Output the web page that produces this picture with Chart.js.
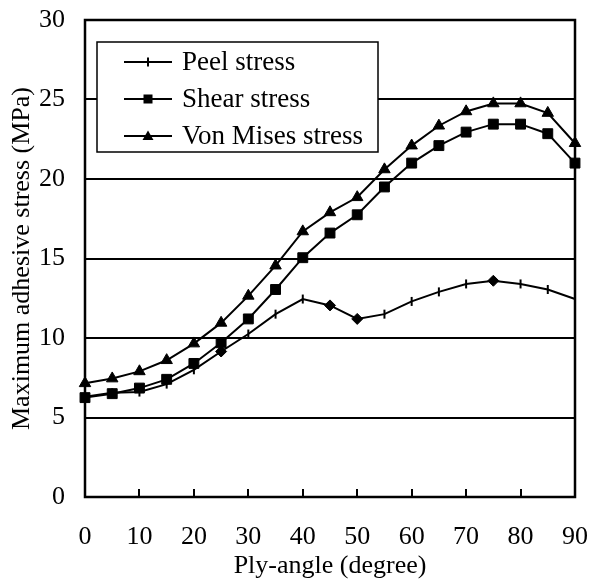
<!DOCTYPE html>
<html>
<head>
<meta charset="utf-8">
<script src="https://cdn.jsdelivr.net/npm/chart.js@4/dist/chart.umd.min.js"></script>
<style>
  html, body { margin: 0; padding: 0; background: #fff; }
  #wrap { width: 590px; height: 586px; }
</style>
</head>
<body>
<div id="wrap"><canvas id="stressChart" width="590" height="586"></canvas></div>
<script>
// ply angle in degrees
const angles = [0, 5, 10, 15, 20, 25, 30, 35, 40, 45, 50, 55, 60, 65, 70, 75, 80, 85, 90];

// maximum adhesive stress (MPa)
const peel      = [6.3, 6.55, 6.6, 7.1, 8.0, 9.15, 10.25, 11.5, 12.45, 12.05, 11.2, 11.5, 12.3, 12.9, 13.4, 13.6, 13.4, 13.05, 12.45];
const shear     = [6.25, 6.5, 6.85, 7.4, 8.4, 9.7, 11.2, 13.05, 15.05, 16.6, 17.75, 19.5, 21.0, 22.1, 22.95, 23.45, 23.45, 22.85, 21.0];
const vonMises  = [7.15, 7.45, 7.9, 8.6, 9.65, 10.95, 12.65, 14.55, 16.7, 17.9, 18.85, 20.6, 22.1, 23.35, 24.25, 24.75, 24.75, 24.15, 22.25];

const seriesNames = ['Peel stress', 'Shear stress', 'Von Mises stress'];
const yTicks = [0, 5, 10, 15, 20, 25, 30];
const xTicks = [0, 10, 20, 30, 40, 50, 60, 70, 80, 90];

// a few peel points are drawn as diamonds in the original
const peelDiamondAt = [25, 45, 50, 75];

const serif = '"Liberation Serif", "Times New Roman", Times, serif';

function toPoints(values) {
  return angles.map((a, i) => ({ x: a, y: values[i] }));
}

function drawMarker(ctx, style, x, y) {
  ctx.fillStyle = '#000';
  ctx.strokeStyle = '#000';
  ctx.beginPath();
  if (style === 'tick') {
    ctx.lineWidth = 2;
    ctx.moveTo(x, y - 4.5);
    ctx.lineTo(x, y + 4.5);
    ctx.stroke();
  } else if (style === 'square') {
    ctx.fillRect(x - 4.5, y - 4.5, 9, 9);
  } else if (style === 'triangle') {
    ctx.moveTo(x, y - 5.5);
    ctx.lineTo(x + 5.5, y + 4);
    ctx.lineTo(x - 5.5, y + 4);
    ctx.closePath();
    ctx.fill();
  }
}

// no automatic room for overflowing tick labels: the plot box is fixed
function noPadding(scale) {
  scale.paddingTop = 0;
  scale.paddingBottom = 0;
  scale.paddingLeft = 0;
  scale.paddingRight = 0;
}

const framePlugin = {
  id: 'frame',
  afterDatasetsDraw(chart) {
    const { ctx, chartArea: a, scales } = chart;
    ctx.save();

    // x ticks pointing inward
    ctx.strokeStyle = '#000';
    ctx.lineWidth = 2;
    scales.x.ticks.forEach(t => {
      const px = Math.round(scales.x.getPixelForValue(t.value));
      ctx.beginPath();
      ctx.moveTo(px, a.bottom);
      ctx.lineTo(px, a.bottom - 8);
      ctx.stroke();
    });

    // plot frame
    ctx.lineWidth = 2.5;
    ctx.strokeRect(a.left, a.top, a.right - a.left, a.bottom - a.top);

    // legend box
    const bx = a.left + 12, by = a.top + 22, bw = 281, bh = 110;
    ctx.fillStyle = '#fff';
    ctx.fillRect(bx, by, bw, bh);
    ctx.lineWidth = 1.5;
    ctx.strokeStyle = '#000';
    ctx.strokeRect(bx, by, bw, bh);

    const markers = ['tick', 'square', 'triangle'];
    ctx.font = '27px ' + serif;
    ctx.textBaseline = 'middle';
    ctx.textAlign = 'left';
    seriesNames.forEach((name, i) => {
      const ry = by + 20 + i * 37;
      ctx.strokeStyle = '#000';
      ctx.lineWidth = 2;
      ctx.beginPath();
      ctx.moveTo(bx + 27, ry);
      ctx.lineTo(bx + 75, ry);
      ctx.stroke();
      drawMarker(ctx, markers[i], bx + 51, ry);
      ctx.fillStyle = '#000';
      ctx.fillText(name, bx + 85, ry + 1);
    });

    ctx.restore();
  }
};

Chart.defaults.color = '#000';
Chart.defaults.font.family = serif;
Chart.defaults.font.size = 26;

const baseSet = {
  borderColor: '#000',
  backgroundColor: '#000',
  pointBackgroundColor: '#000',
  pointBorderColor: '#000',
  borderWidth: 2,
  tension: 0,
  fill: false,
  clip: false
};

const ctx = document.getElementById('stressChart').getContext('2d');
const stressChart = new Chart(ctx, {
  type: 'line',
  data: {
    datasets: [
      Object.assign({}, baseSet, {
        label: seriesNames[0],
        data: toPoints(peel),
        pointStyle: angles.map(a => peelDiamondAt.includes(a) ? 'rectRot' : 'line'),
        pointRotation: angles.map(a => peelDiamondAt.includes(a) ? 0 : 90),
        pointRadius: angles.map(a => peelDiamondAt.includes(a) ? 5.5 : 4.5),
        pointBorderWidth: angles.map(a => peelDiamondAt.includes(a) ? 1 : 2)
      }),
      Object.assign({}, baseSet, {
        label: seriesNames[1],
        data: toPoints(shear),
        pointStyle: 'rect',
        pointRadius: 7,
        pointBorderWidth: 1
      }),
      Object.assign({}, baseSet, {
        label: seriesNames[2],
        data: toPoints(vonMises),
        pointStyle: 'triangle',
        pointRadius: 6.6,
        pointBorderWidth: 1
      })
    ]
  },
  options: {
    responsive: false,
    animation: false,
    devicePixelRatio: 1,
    layout: { padding: { left: 0, right: 15, top: 20, bottom: 0 } },
    plugins: {
      legend: { display: false },
      tooltip: { enabled: false }
    },
    scales: {
      x: {
        type: 'linear',
        min: 0,
        max: 90,
        afterBuildTicks: scale => { scale.ticks = xTicks.map(v => ({ value: v })); },
        afterFit: scale => { scale.height = 89; noPadding(scale); },
        grid: { display: false },
        border: { display: false },
        ticks: { padding: 17, font: { size: 26 } },
        title: {
          display: true,
          text: 'Ply-angle (degree)',
          font: { size: 26 },
          padding: { top: 0, bottom: 4 }
        }
      },
      y: {
        min: 0,
        max: 30,
        afterBuildTicks: scale => { scale.ticks = yTicks.map(v => ({ value: v })); },
        afterFit: scale => { scale.width = 85; noPadding(scale); },
        grid: {
          color: c => (c.tick && (c.tick.value === 0 || c.tick.value === 30)) ? 'rgba(0,0,0,0)' : '#000',
          lineWidth: 2,
          drawTicks: false
        },
        border: { display: false },
        ticks: { padding: 20, font: { size: 26 } },
        title: {
          display: true,
          text: 'Maximum adhesive stress (MPa)',
          font: { size: 26 },
          padding: { top: 7, bottom: 0 }
        }
      }
    }
  },
  plugins: [framePlugin]
});
</script>
</body>
</html>
